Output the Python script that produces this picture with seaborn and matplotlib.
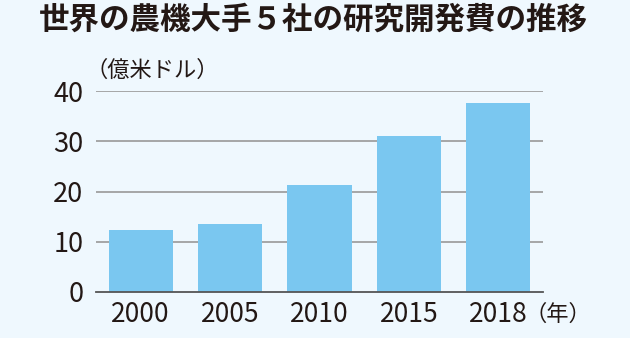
import matplotlib
matplotlib.use("Agg")
import matplotlib.pyplot as plt
import seaborn as sns
import pandas as pd

years = ["2000", "2005", "2010", "2015", "2018"]
values = [12.3, 13.5, 21.3, 31.1, 37.7]
yticks = [0, 10, 20, 30, 40]
title = "世界の農機大手５社の研究開発費の推移"
unit_label = "（億米ドル）"
year_label = "（年）"

sns.set_theme(style="white")
plt.rcParams["font.family"] = ["Noto Sans CJK JP", "DejaVu Sans"]

bg = "#eff8fe"
bar_color = "#7ac7f0"
text_color = "#231815"

df = pd.DataFrame({"year": years, "value": values})

fig = plt.figure(figsize=(6.3, 3.38), dpi=100, facecolor=bg)
ax = fig.add_axes([96 / 630, 1 - 291.7 / 338, (543 - 96) / 630, (291.7 - 91.3) / 338])
ax.set_facecolor(bg)

sns.barplot(data=df, x="year", y="value", color=bar_color, width=0.72,
            saturation=1, ax=ax, zorder=3, edgecolor="none")

ax.set_xlim(-0.5, len(years) - 0.5)
ax.set_ylim(0, 40)
ax.set_yticks(yticks)
ax.set_yticklabels([str(v) for v in yticks])
for y in yticks[1:]:
    ax.axhline(y, color="#a0a0a0", lw=1.3, zorder=1)

for s in ["top", "right", "left"]:
    ax.spines[s].set_visible(False)
ax.spines["bottom"].set_color("#555555")
ax.spines["bottom"].set_linewidth(1.3)
ax.spines["bottom"].set_zorder(4)

ax.tick_params(axis="x", which="major", length=0, pad=7, labelsize=19, labelcolor=text_color)
ax.tick_params(axis="y", which="major", length=0, pad=9, labelsize=19.5, labelcolor=text_color)
ax.set_xticks([i - 0.5 for i in range(len(years) + 1)], minor=True)
ax.tick_params(axis="x", which="minor", direction="in", length=7.5, width=1.0, color="#555555")
ax.set_xlabel("")
ax.set_ylabel("")

fig.text(0.497, 1 - 20 / 338, title, ha="center", va="center",
         fontsize=22, fontweight="bold", color=text_color)
fig.text(86 / 630, 1 - 70 / 338, unit_label, ha="left", va="center",
         fontsize=16, color=text_color)
fig.text(524 / 630, 1 - 314 / 338, year_label, ha="left", va="center",
         fontsize=16, color=text_color)

fig.savefig("out.png", dpi=100, facecolor=bg)
